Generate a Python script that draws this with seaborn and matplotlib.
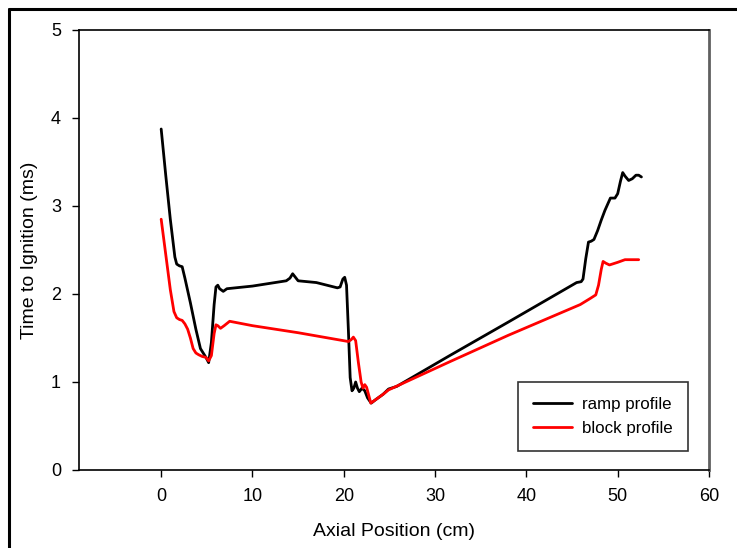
import matplotlib
matplotlib.use("Agg")
import matplotlib.pyplot as plt
from matplotlib.lines import Line2D
import pandas as pd
import seaborn as sns

# Ignition delay along the axis for two heating profiles
ramp_x = [0.0, 0.5, 1.0, 1.5, 1.7, 2.0, 2.3, 2.6, 3.2, 3.8, 4.3, 4.9, 5.2, 5.5, 5.8, 6.0, 6.2, 6.4,
          6.8, 7.2, 10.0, 13.7, 14.1, 14.4, 14.7, 15.0, 17.0, 19.3, 19.6, 19.9, 20.1, 20.3, 20.5,
          20.7, 20.9, 21.1, 21.3, 21.5, 21.7, 22.0, 22.3, 22.6, 23.0, 23.5, 24.3, 24.9, 25.8,
          31.6, 38.0, 45.5, 46.0, 46.2, 46.5, 46.8, 47.1, 47.4, 47.8, 48.2, 48.6, 49.2, 49.7,
          50.0, 50.3, 50.55, 50.8, 51.2, 51.6, 52.0, 52.3, 52.6]
ramp_y = [3.875, 3.35, 2.85, 2.42, 2.34, 2.32, 2.31, 2.18, 1.90, 1.60, 1.38, 1.28, 1.22, 1.45,
          1.88, 2.08, 2.10, 2.06, 2.03, 2.06, 2.09, 2.15, 2.18, 2.23, 2.19, 2.15, 2.13, 2.07, 2.08,
          2.17, 2.19, 2.10, 1.60, 1.05, 0.90, 0.93, 1.00, 0.93, 0.89, 0.93, 0.90, 0.82, 0.76,
          0.80, 0.86, 0.92, 0.95, 1.30, 1.68, 2.13, 2.14, 2.17, 2.40, 2.59, 2.60, 2.62, 2.72,
          2.84, 2.95, 3.09, 3.09, 3.14, 3.28, 3.38, 3.34, 3.29, 3.31, 3.35, 3.35, 3.33]

block_x = [0.0, 0.5, 1.0, 1.4, 1.7, 2.0, 2.3, 2.6, 2.9, 3.2, 3.5, 3.8, 4.1, 4.5, 4.9, 5.2, 5.5,
           5.8, 6.0, 6.2, 6.5, 6.9, 7.5, 10.0, 15.0, 20.5, 20.8, 21.05, 21.3, 21.6, 21.9, 22.1,
           22.3, 22.5, 22.96, 23.5, 24.3, 24.9, 31.6, 38.0, 45.9, 47.0, 47.3, 47.6, 47.9, 48.2,
           48.4, 48.7, 49.1, 50.0, 50.8, 52.3]
block_y = [2.85, 2.45, 2.05, 1.80, 1.73, 1.71, 1.70, 1.66, 1.60, 1.50, 1.38, 1.33, 1.31, 1.29,
           1.28, 1.24, 1.30, 1.55, 1.65, 1.64, 1.61, 1.64, 1.69, 1.64, 1.56, 1.46, 1.48, 1.51,
           1.47, 1.22, 1.00, 0.93, 0.97, 0.94, 0.76, 0.80, 0.86, 0.91, 1.23, 1.53, 1.88, 1.95,
           1.97, 1.99, 2.10, 2.28, 2.37, 2.35, 2.33, 2.36, 2.39, 2.39]

series_names = ["ramp profile", "block profile"]
series_colors = ["#000000", "#ff0000"]

x_ticks = [0, 10, 20, 30, 40, 50, 60]
y_ticks = [0, 1, 2, 3, 4, 5]

df = pd.concat([
    pd.DataFrame({"pos": ramp_x, "t": ramp_y, "profile": series_names[0]}),
    pd.DataFrame({"pos": block_x, "t": block_y, "profile": series_names[1]}),
], ignore_index=True)

sns.set_theme(style="white")
plt.rcParams["font.family"] = ["Liberation Sans", "DejaVu Sans"]

fig = plt.figure(figsize=(7.37, 5.48), dpi=100)
ax = fig.add_axes([79 / 737, 1 - 470 / 548, (709 - 79) / 737, (470 - 30) / 548])

sns.lineplot(data=df, x="pos", y="t", hue="profile", hue_order=series_names,
             palette=series_colors, sort=False, estimator=None,
             linewidth=2.0, ax=ax, legend=False)

ax.set_xlim(-9, 60)
ax.set_ylim(0, 5)
ax.set_xticks(x_ticks)
ax.set_yticks(y_ticks)
ax.tick_params(axis="both", direction="out", length=5, width=1.0, color="black",
               labelsize=13, labelcolor="black", pad=8, bottom=True, left=True)
ax.set_xlabel("Axial Position (cm)", fontsize=14, labelpad=13, color="black")
ax.set_ylabel("Time to Ignition (ms)", fontsize=14, labelpad=9, color="black")

for side in ["left", "bottom", "top"]:
    ax.spines[side].set_color("black")
    ax.spines[side].set_linewidth(1.2)
ax.spines["right"].set_color("#606060")
ax.spines["right"].set_linewidth(2.0)

handles = [Line2D([0], [0], color=c, lw=2.0) for c in series_colors]
leg = ax.legend(handles, series_names, loc="lower right", bbox_to_anchor=(0.967, 0.043),
                fontsize=12.2, frameon=True, fancybox=False, handlelength=2.3,
                handletextpad=0.6, borderpad=0.9, labelspacing=0.5, borderaxespad=0)
leg.get_frame().set_edgecolor("black")
leg.get_frame().set_linewidth(1.2)
for txt in leg.get_texts():
    txt.set_color("black")

# page border on the left and top edges
fig.add_artist(Line2D([9 / 737, 9 / 737], [0, 1 - 9 / 548], color="black", lw=2.2,
                      transform=fig.transFigure))
fig.add_artist(Line2D([9 / 737, 1], [1 - 9 / 548, 1 - 9 / 548], color="black", lw=2.2,
                      transform=fig.transFigure))

fig.savefig("out.png", dpi=100)
